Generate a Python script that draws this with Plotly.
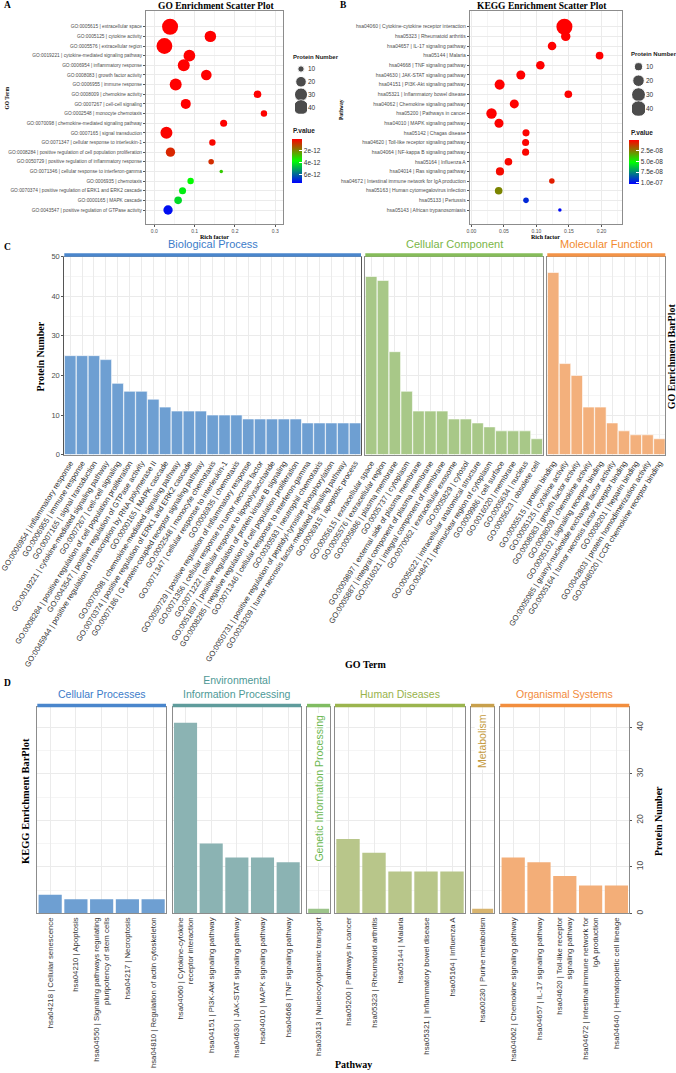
import math
import plotly.graph_objects as go

# %%
# GO scatter (panel A), top row first
GO_TERMS = [
    "GO:0005615 | extracellular space",
    "GO:0005125 | cytokine activity",
    "GO:0005576 | extracellular region",
    "GO:0019221 | cytokine-mediated signaling pathway",
    "GO:0006954 | inflammatory response",
    "GO:0008083 | growth factor activity",
    "GO:0006955 | immune response",
    "GO:0008009 | chemokine activity",
    "GO:0007267 | cell-cell signaling",
    "GO:0002548 | monocyte chemotaxis",
    "GO:0070098 | chemokine-mediated signaling pathway",
    "GO:0007165 | signal transduction",
    "GO:0071347 | cellular response to interleukin-1",
    "GO:0008284 | positive regulation of cell population proliferation",
    "GO:0050729 | positive regulation of inflammatory response",
    "GO:0071346 | cellular response to interferon-gamma",
    "GO:0006935 | chemotaxis",
    "GO:0070374 | positive regulation of ERK1 and ERK2 cascade",
    "GO:0000165 | MAPK cascade",
    "GO:0043547 | positive regulation of GTPase activity",
]
GO_RICH = [0.039, 0.139, 0.025, 0.087, 0.073, 0.129, 0.053, 0.256, 0.078, 0.272,
           0.172, 0.030, 0.144, 0.040, 0.141, 0.166, 0.090, 0.070, 0.059, 0.034]
GO_COUNT = [45, 23, 44, 24, 25, 20, 25, 12, 18, 10, 11, 25, 10, 16, 9, 8, 10, 11, 12, 16]
GO_PVAL = [4.2e-31, 2.1e-20, 3.5e-29, 1.6e-19, 2.0e-19, 8.8e-17, 5.3e-18, 1.1e-16, 4.5e-15, 2.6e-14,
           3.1e-14, 6.2e-14, 9.8e-14, 5.5e-13, 6.4e-13, 2.9e-12, 3.6e-12, 3.9e-12, 4.2e-12, 7.1e-12]

# KEGG scatter (panel B)
KEGG_PATHS = [
    "hsa04060 | Cytokine-cytokine receptor interaction",
    "hsa05323 | Rheumatoid arthritis",
    "hsa04657 | IL-17 signaling pathway",
    "hsa05144 | Malaria",
    "hsa04668 | TNF signaling pathway",
    "hsa04630 | JAK-STAT signaling pathway",
    "hsa04151 | PI3K-Akt signaling pathway",
    "hsa05321 | Inflammatory bowel disease",
    "hsa04062 | Chemokine signaling pathway",
    "hsa05200 | Pathways in cancer",
    "hsa04010 | MAPK signaling pathway",
    "hsa05142 | Chagas disease",
    "hsa04620 | Toll-like receptor signaling pathway",
    "hsa04064 | NF-kappa B signaling pathway",
    "hsa05164 | Influenza A",
    "hsa04014 | Ras signaling pathway",
    "hsa04672 | Intestinal immune network for IgA production",
    "hsa05163 | Human cytomegalovirus infection",
    "hsa05133 | Pertussis",
    "hsa05143 | African trypanosomiasis",
]
KEGG_RICH = [0.143, 0.145, 0.124, 0.197, 0.106, 0.076, 0.0435, 0.149, 0.066, 0.031,
             0.0425, 0.084, 0.0834, 0.0834, 0.057, 0.044, 0.1237, 0.042, 0.084, 0.136]
KEGG_COUNT = [41, 13, 11, 9, 11, 12, 15, 9, 12, 16, 12, 8, 8, 8, 9, 10, 6, 9, 6, 5]
KEGG_PVAL = [2.1e-30, 4.4e-14, 6.0e-12, 1.2e-11, 3.3e-11, 5.1e-11, 7.4e-11, 1.5e-10, 2.2e-10, 3.0e-10,
             4.8e-10, 6.6e-10, 8.1e-10, 9.9e-10, 1.4e-9, 2.0e-9, 6.0e-9, 2.7e-8, 9.6e-8, 1.02e-7]

SIZE_LEGEND = [10, 20, 30, 40]

# GO bar plot (panel C)
BP_TERMS = [
    "GO:0006954 | inflammatory response",
    "GO:0006955 | immune response",
    "GO:0007165 | signal transduction",
    "GO:0019221 | cytokine-mediated signaling pathway",
    "GO:0007267 | cell-cell signaling",
    "GO:0008284 | positive regulation of cell population proliferation",
    "GO:0043547 | positive regulation of GTPase activity",
    "GO:0045944 | positive regulation of transcription by RNA polymerase II",
    "GO:0000165 | MAPK cascade",
    "GO:0070098 | chemokine-mediated signaling pathway",
    "GO:0070374 | positive regulation of ERK1 and ERK2 cascade",
    "GO:0007186 | G protein-coupled receptor signaling pathway",
    "GO:0002548 | monocyte chemotaxis",
    "GO:0071347 | cellular response to interleukin-1",
    "GO:0006935 | chemotaxis",
    "GO:0050729 | positive regulation of inflammatory response",
    "GO:0071356 | cellular response to tumor necrosis factor",
    "GO:0071222 | cellular response to lipopolysaccharide",
    "GO:0051897 | positive regulation of protein kinase B signaling",
    "GO:0008285 | negative regulation of cell population proliferation",
    "GO:0071346 | cellular response to interferon-gamma",
    "GO:0030593 | neutrophil chemotaxis",
    "GO:0050731 | positive regulation of peptidyl-tyrosine phosphorylation",
    "GO:0033209 | tumor necrosis factor-mediated signaling pathway",
    "GO:0006915 | apoptotic process",
]
BP_COUNT = [25, 25, 25, 24, 18, 16, 16, 14, 12, 11, 11, 11, 10, 10, 10, 9, 9, 9, 9, 9, 8, 8, 8, 8, 8]

CC_TERMS = [
    "GO:0005615 | extracellular space",
    "GO:0005576 | extracellular region",
    "GO:0005886 | plasma membrane",
    "GO:0005737 | cytoplasm",
    "GO:0009897 | external side of plasma membrane",
    "GO:0005887 | integral component of plasma membrane",
    "GO:0016021 | integral component of membrane",
    "GO:0070062 | extracellular exosome",
    "GO:0005829 | cytosol",
    "GO:0005622 | intracellular anatomical structure",
    "GO:0048471 | perinuclear region of cytoplasm",
    "GO:0009986 | cell surface",
    "GO:0016020 | membrane",
    "GO:0005634 | nucleus",
    "GO:0005623 | obsolete cell",
]
CC_COUNT = [45, 44, 26, 16, 11, 11, 11, 9, 9, 8, 7, 6, 6, 6, 4]

MF_TERMS = [
    "GO:0005515 | protein binding",
    "GO:0005125 | cytokine activity",
    "GO:0008083 | growth factor activity",
    "GO:0008009 | chemokine activity",
    "GO:0005102 | signaling receptor binding",
    "GO:0005085 | guanyl-nucleotide exchange factor activity",
    "GO:0005164 | tumor necrosis factor receptor binding",
    "GO:0008201 | heparin binding",
    "GO:0042803 | protein homodimerization activity",
    "GO:0048020 | CCR chemokine receptor binding",
]
MF_COUNT = [46, 23, 20, 12, 12, 8, 6, 5, 5, 4]

# KEGG bar plot (panel D)
CP_PATHS = ["hsa04218 | Cellular senescence", "hsa04210 | Apoptosis",
            "hsa04550 | Signaling pathways regulating<br>pluripotency of stem cells",
            "hsa04217 | Necroptosis", "hsa04810 | Regulation of actin cytoskeleton"]
CP_COUNT = [4, 3, 3, 3, 3]
EIP_PATHS = ["hsa04060 | Cytokine-cytokine<br>receptor interaction", "hsa04151 | PI3K-Akt signaling pathway",
             "hsa04630 | JAK-STAT signaling pathway", "hsa04010 | MAPK signaling pathway",
             "hsa04668 | TNF signaling pathway"]
EIP_COUNT = [41, 15, 12, 12, 11]
GIP_PATHS = ["hsa03013 | Nucleocytoplasmic transport"]
GIP_COUNT = [1]
HD_PATHS = ["hsa05200 | Pathways in cancer", "hsa05323 | Rheumatoid arthritis", "hsa05144 | Malaria",
            "hsa05321 | Inflammatory bowel disease", "hsa05164 | Influenza A"]
HD_COUNT = [16, 13, 9, 9, 9]
MET_PATHS = ["hsa00230 | Purine metabolism"]
MET_COUNT = [1]
OS_PATHS = ["hsa04062 | Chemokine signaling pathway", "hsa04657 | IL-17 signaling pathway",
            "hsa04620 | Toll-like receptor<br>signaling pathway",
            "hsa04672 | Intestinal immune network for<br>IgA production",
            "hsa04640 | Hematopoietic cell lineage"]
OS_COUNT = [12, 11, 8, 6, 6]

# %%
W, H = 676, 1073
SANS = "Liberation Sans, Arial, sans-serif"
SERIF = "Liberation Serif, Times New Roman, serif"
GRID = "#EBEBEB"
MINOR = "#F5F5F5"
BORDER = "#8C8C8C"
TXT = "#4D4D4D"


def px(x):
    return x / W


def py(y):
    return 1 - y / H


def dot_size(n, lo, hi):
    return 3.5 + 12.5 * math.sqrt(max(n - lo, 0) / (hi - lo))


fig = go.Figure()

# scatter panels
go_lo, go_hi = min(GO_COUNT), max(GO_COUNT)
kg_lo, kg_hi = min(KEGG_COUNT), max(KEGG_COUNT)

fig.add_trace(go.Scatter(
    x=GO_RICH, y=GO_TERMS, mode="markers", xaxis="x", yaxis="y",
    marker=dict(size=[dot_size(n, go_lo, go_hi) for n in GO_COUNT],
                color=[-p for p in GO_PVAL], coloraxis="coloraxis", line=dict(width=0), opacity=1),
))
fig.add_trace(go.Scatter(
    x=KEGG_RICH, y=KEGG_PATHS, mode="markers", xaxis="x2", yaxis="y2",
    marker=dict(size=[dot_size(n, kg_lo, kg_hi) for n in KEGG_COUNT],
                color=[-p for p in KEGG_PVAL], coloraxis="coloraxis2", line=dict(width=0), opacity=1),
))
# size keys
fig.add_trace(go.Scatter(
    x=[0] * len(SIZE_LEGEND), y=SIZE_LEGEND, mode="markers", xaxis="x12", yaxis="y12",
    marker=dict(size=[dot_size(n, go_lo, go_hi) for n in SIZE_LEGEND], color="black"), hoverinfo="skip",
))
fig.add_trace(go.Scatter(
    x=[0] * len(SIZE_LEGEND), y=SIZE_LEGEND, mode="markers", xaxis="x13", yaxis="y13",
    marker=dict(size=[dot_size(n, kg_lo, kg_hi) for n in SIZE_LEGEND], color="black"), hoverinfo="skip",
))

# GO bars
for terms, counts, color, ax in [
    (BP_TERMS, BP_COUNT, "#6E9FD2", "3"),
    (CC_TERMS, CC_COUNT, "#A8C888", "4"),
    (MF_TERMS, MF_COUNT, "#F3B07C", "5"),
]:
    fig.add_trace(go.Bar(x=terms, y=counts, marker=dict(color=color, line=dict(color="white", width=0.6)),
                         width=0.97, xaxis="x" + ax, yaxis="y" + ax))

# KEGG bars
for paths, counts, color, ax in [
    (CP_PATHS, CP_COUNT, "#6E9FD2", "6"),
    (EIP_PATHS, EIP_COUNT, "#8BB3B3", "7"),
    (GIP_PATHS, GIP_COUNT, "#9CC48A", "8"),
    (HD_PATHS, HD_COUNT, "#B8C68A", "9"),
    (MET_PATHS, MET_COUNT, "#D8B46E", "10"),
    (OS_PATHS, OS_COUNT, "#F3AE78", "11"),
]:
    fig.add_trace(go.Bar(x=paths, y=counts, marker=dict(color=color, line=dict(width=0)),
                         width=0.9, xaxis="x" + ax, yaxis="y" + ax))

# %%
layout = dict(
    width=W, height=H, margin=dict(l=0, r=0, t=0, b=0), showlegend=False,
    paper_bgcolor="white", plot_bgcolor="white",
    font=dict(family=SANS, color=TXT),
)

frame = dict(showline=True, mirror=True, linecolor=BORDER, linewidth=1, zeroline=False,
             automargin=False, gridcolor=GRID, gridwidth=0.8)

# panel A / B axes
layout["xaxis"] = dict(frame, domain=[px(146), px(283.3)], anchor="y", range=[-0.0207, 0.32],
                       tickvals=[0, 0.1, 0.2, 0.3], tickformat=".1f", ticks="outside", ticklen=2,
                       tickcolor="#555", tickfont=dict(size=5, color=TXT),
                       minor=dict(dtick=0.05, showgrid=True, gridcolor=MINOR))
layout["yaxis"] = dict(frame, domain=[py(224), py(11.3)], anchor="x", type="category",
                       categoryorder="array", categoryarray=GO_TERMS, range=[20.45, -1.6],
                       tickmode="array", tickvals=GO_TERMS, ticks="outside", ticklen=2, tickcolor="#555",
                       tickfont=dict(size=4.8, color=TXT))
layout["xaxis2"] = dict(frame, domain=[px(469.7), px(621.7)], anchor="y2", range=[-0.0025, 0.231],
                        tickvals=[0, 0.05, 0.1, 0.15, 0.2], tickformat=".2f", ticks="outside", ticklen=2,
                        tickcolor="#555", tickfont=dict(size=5, color=TXT),
                        minor=dict(dtick=0.025, showgrid=True, gridcolor=MINOR))
layout["yaxis2"] = dict(frame, domain=[py(224), py(11.3)], anchor="x2", type="category",
                        categoryorder="array", categoryarray=KEGG_PATHS, range=[20.45, -1.6],
                        tickmode="array", tickvals=KEGG_PATHS, ticks="outside", ticklen=2, tickcolor="#555",
                        tickfont=dict(size=5, color=TXT))

cbar = dict(lenmode="pixels", thickness=10, thicknessmode="pixels", outlinewidth=0, xpad=0, ypad=0,
            xanchor="left", yanchor="middle", ticks="inside", tickcolor="white", ticklen=3,
            tickfont=dict(size=6.5, family=SANS, color="#333"))
layout["coloraxis"] = dict(
    cmin=-7.3e-12, cmax=0, colorscale=[[0, "#0000FF"], [0.5, "#00FF00"], [1, "#FF0000"]],
    colorbar=dict(cbar, x=px(291.7), y=py(160.5), len=44.4,
                  tickvals=[-2e-12, -4e-12, -6e-12], ticktext=["2e-12", "4e-12", "6e-12"]),
)
layout["coloraxis2"] = dict(
    cmin=-1.04e-7, cmax=0, colorscale=[[0, "#0000FF"], [0.5, "#00FF00"], [1, "#FF0000"]],
    colorbar=dict(cbar, x=px(629.3), y=py(162.3), len=44,
                  tickvals=[-2.5e-8, -5e-8, -7.5e-8, -1e-7], ticktext=["2.5e-08", "5.0e-08", "7.5e-08", "1.0e-07"]),
)

# size keys
hidden = dict(showgrid=False, zeroline=False, showline=False, automargin=False)
layout["xaxis12"] = dict(hidden, domain=[px(295), px(307)], anchor="y12", range=[-1, 1], visible=False)
layout["yaxis12"] = dict(hidden, domain=[py(113.7), py(62.6)], anchor="x12", side="right", range=[45, 5],
                         tickvals=SIZE_LEGEND, ticks="", tickfont=dict(size=6.5, color="#333"))
layout["xaxis13"] = dict(hidden, domain=[px(632), px(645)], anchor="y13", range=[-1, 1], visible=False)
layout["yaxis13"] = dict(hidden, domain=[py(115.7), py(59.7)], anchor="x13", side="right", range=[45, 5],
                         tickvals=SIZE_LEGEND, ticks="", tickfont=dict(size=6.5, color="#333"))

# panel C axes
c_dom = {"3": (64.3, 361, BP_TERMS), "4": (365.3, 542.7, CC_TERMS), "5": (547.3, 665.3, MF_TERMS)}
for ax, (x0, x1, terms) in c_dom.items():
    layout["xaxis" + ax] = dict(frame, domain=[px(x0), px(x1)], anchor="y" + ax, type="category",
                                range=[-0.5, len(terms) - 0.5], tickmode="array", tickvals=terms,
                                tickangle=-58, tickfont=dict(size=7.7, color="#333"), ticks="")
    layout["yaxis" + ax] = dict(frame, domain=[py(454.6), py(256.7)], anchor="x" + ax, range=[0, 50],
                                dtick=10, showticklabels=(ax == "3"), ticks="outside" if ax == "3" else "",
                                ticklen=2, tickcolor="#555", tickfont=dict(size=7.5, color=TXT),
                                minor=dict(dtick=5, showgrid=True, gridcolor=MINOR))
layout["yaxis3"]["linecolor"] = "#555"

# panel D axes
d_dom = {"6": (37.3, 166, CP_PATHS), "7": (172.7, 301, EIP_PATHS), "8": (307, 330.3, GIP_PATHS),
         "9": (335, 465, HD_PATHS), "10": (471, 494.3, MET_PATHS), "11": (500.3, 629.3, OS_PATHS)}
for ax, (x0, x1, paths) in d_dom.items():
    layout["xaxis" + ax] = dict(frame, domain=[px(x0), px(x1)], anchor="y" + ax, type="category",
                                range=[-0.5, len(paths) - 0.5], tickmode="array", tickvals=paths,
                                tickangle=-90, tickfont=dict(size=7.8, color="#333"), ticks="")
    layout["yaxis" + ax] = dict(frame, domain=[py(913.3), py(707.3)], anchor="x" + ax, range=[0, 44.3],
                                dtick=10, showticklabels=(ax == "11"), side="right",
                                ticks="outside" if ax == "11" else "", ticklen=2, tickcolor="#555",
                                tickangle=-90, tickfont=dict(size=8.5, color=TXT),
                                minor=dict(dtick=5, showgrid=True, gridcolor=MINOR))

# strips
shapes = []
for ax, col in [("3", "#4A86CC"), ("4", "#86BC5A"), ("5", "#F39347"),
                ("6", "#4A86CC"), ("7", "#5F9C9C"), ("8", "#80BC62"),
                ("9", "#9BB54E"), ("10", "#C8A04C"), ("11", "#F28E3E")]:
    shapes.append(dict(type="rect", xref="x%s domain" % ax, yref="y%s domain" % ax,
                       x0=0, x1=1, y0=1, y1=1.017, fillcolor=col, line=dict(width=0), layer="above"))
layout["shapes"] = shapes

# %%
ann = []


def note(text, x, y, size, family=SERIF, color="black", angle=0, xanchor="center", yanchor="middle", **kw):
    ann.append(dict(text=text, x=x, y=y, xref=kw.pop("xref", "paper"), yref=kw.pop("yref", "paper"),
                    showarrow=False, textangle=angle, xanchor=xanchor, yanchor=yanchor,
                    font=dict(size=size, family=family, color=color), **kw))


note("<b>A</b>", px(2), py(5), 9.5, xanchor="left")
note("<b>B</b>", px(338), py(5), 9.5, xanchor="left")
note("<b>C</b>", px(2), py(247), 9.5, xanchor="left")
note("<b>D</b>", px(2), py(683), 9.5, xanchor="left")

note("<b>GO Enrichment Scatter Plot</b>", px(216.3), py(5.5), 9.5)
note("<b>KEGG Enrichment Scatter Plot</b>", px(541.7), py(5.5), 9.5)
note("<b>Rich factor</b>", px(214.7), py(236.5), 6)
note("<b>Rich factor</b>", px(545.7), py(236.5), 6)
note("<b>GO Term</b>", px(6.5), py(98), 5.5, angle=-90)
note("<b>Pathway</b>", px(341), py(110), 5.5, angle=-90)
note("<b>Protein Number</b>", px(291), py(56.7), 6, family=SANS, color="#222", xanchor="left")
note("<b>Protein Number</b>", px(629), py(54.3), 6, family=SANS, color="#222", xanchor="left")
note("<b>P.value</b>", px(291), py(130), 6.5, family=SANS, color="#222", xanchor="left")
note("<b>P.value</b>", px(629), py(132.7), 6.5, family=SANS, color="#222", xanchor="left")

note("<b>Protein Number</b>", px(40.7), py(356.7), 10, angle=-90)
note("<b>GO Enrichment BarPlot</b>", px(671.5), py(356.7), 10, angle=-90)
note("<b>GO Term</b>", px(365.5), py(664), 10)
note("<b>KEGG Enrichment BarPlot</b>", px(25), py(801), 10.5, angle=-90)
note("<b>Protein Number</b>", px(658), py(821), 10, angle=-90)
note("<b>Pathway</b>", px(353.5), py(1064), 10)

for ax, text, col in [("3", "Biological Process", "#3C7CC9"), ("4", "Cellular Component", "#7AB648"),
                      ("5", "Molecular Function", "#F28A2E"), ("6", "Cellular Processes", "#3C7CC9"),
                      ("7", "Environmental<br>Information Processing", "#4E9996"),
                      ("9", "Human Diseases", "#97B24A"), ("11", "Organismal Systems", "#F28A3A")]:
    note(text, 0.5, 1.025, 11 if ax in "345" else 10.5, family=SANS, color=col, yanchor="bottom",
         xref="x%s domain" % ax, yref="y%s domain" % ax)

note("Genetic Information Processing", 0.5, 0.975, 10.5, family=SANS, color="#6DB852", angle=-90,
     yanchor="top", xref="x8 domain", yref="y8 domain", bgcolor="white")
note("Metabolism", 0.5, 0.975, 10.5, family=SANS, color="#C49A3E", angle=-90,
     yanchor="top", xref="x10 domain", yref="y10 domain", bgcolor="white")

layout["annotations"] = ann
fig.update_layout(**layout)
fig.update_traces(showlegend=False)

# the page's default body margin would push the fixed-size figure off the window
fig.write_html("out.html", config={"displayModeBar": False},
               post_script="document.body.style.margin='0';")
